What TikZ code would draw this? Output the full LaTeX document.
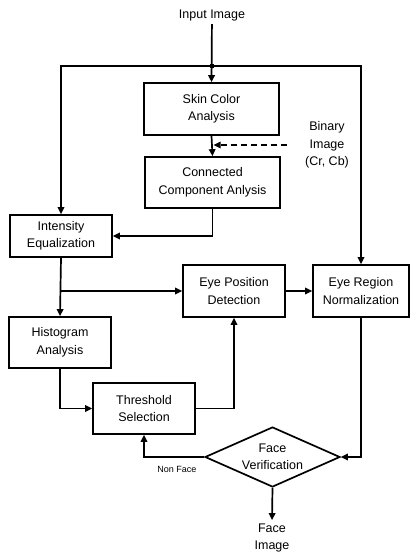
\documentclass[tikz,border=0pt]{standalone}
\usepackage{fontspec}
\setmainfont{Liberation Sans}
\usetikzlibrary{arrows.meta}
\usetikzlibrary{shapes.geometric}

\begin{document}
\begin{tikzpicture}[x=1pt, y=-1pt,
        every node/.style={font=\fontsize{12.5}{17.5}\selectfont, align=center},
        block/.style={draw, line width=1.7pt, inner sep=0pt},
        flow/.style={line width=1.7pt, -{Triangle[length=7pt,width=6.5pt]}}]
        \useasboundingbox (0,0) rectangle (411,556);

        % labels
        \node (input) at (212,15) {Input Image};
        \node (binary) at (327,145) {Binary\\Image\\(Cr, Cb)};
        \node (face) at (272,538) {Face\\Image};
        \node[font=\fontsize{9}{11}\selectfont] (nonface) at (177,469) {Non Face};

        % blocks
        \node[block, minimum width=135pt, minimum height=52pt] (skin) at (211.5,109) {Skin Color\\Analysis};
        \node[block, minimum width=135pt, minimum height=51pt] (conn) at (212.5,182.5) {Connected\\Component Anlysis};
        \node[block, minimum width=102pt, minimum height=42pt] (inten) at (61,236) {Intensity\\Equalization};
        \node[block, minimum width=102pt, minimum height=51pt] (hist) at (60,342.5) {Histogram\\Analysis};
        \node[block, minimum width=102pt, minimum height=51pt] (thresh) at (144,408.5) {Threshold\\Selection};
        \node[block, minimum width=102pt, minimum height=52pt] (eyepos) at (234,291) {Eye Position\\Detection};
        \node[block, minimum width=96pt, minimum height=52pt] (eyereg) at (361,291) {Eye Region\\Normalization};
        \node[block, diamond, aspect=2.25, minimum width=135pt, minimum height=60pt] (verif) at (272.5,457) {Face\\Verification};

        % junction
        \coordinate (junc) at (212,66);
        \fill (junc) circle (2.5pt);

        % arrows
        \draw[flow] (input) -- (skin.north);
        \draw[flow] (junc) -| (inten.north);
        \draw[flow] (junc) -| (eyereg.north);
        \draw[flow] (skin.south) -- (conn.north);
        \draw[flow, dash pattern=on 6pt off 4pt, line width=1.5pt, shorten <=15pt, shorten >=2pt] (binary.west) -- (skin.south |- binary.west);
        \draw[flow] (conn.south) |- (inten.east);
        \draw[flow] (inten.south) -- (hist.north);
        \draw[flow] (inten.south |- eyepos.west) -- (eyepos.west);
        \draw[flow] (hist.south) |- (thresh.west);
        \draw[flow] (thresh.east) -| (eyepos.south);
        \draw[flow] (eyepos.east) -- (eyereg.west);
        \draw[flow] (eyereg.south) |- (verif.east);
        \draw[flow] (verif.west) -| (thresh.south);
        \draw[flow] (verif.south) -- (face.north);
    \end{tikzpicture}
\end{document}
